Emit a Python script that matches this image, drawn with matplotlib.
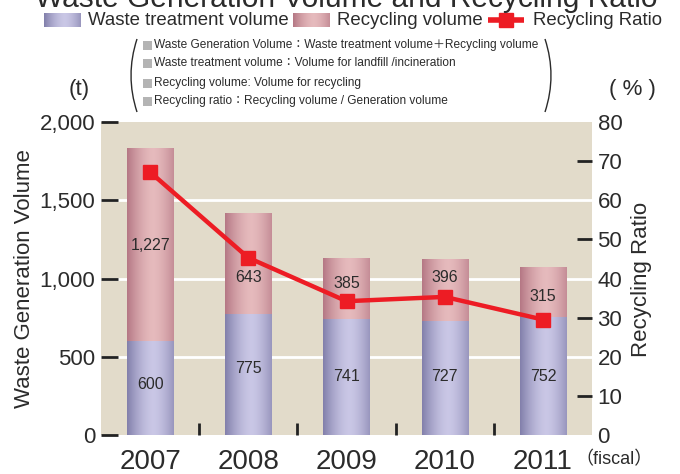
import matplotlib
matplotlib.use('Agg')
import matplotlib.pyplot as plt
import numpy as np
from matplotlib.path import Path
from matplotlib.patches import PathPatch, Rectangle

plt.rcParams['font.family'] = ['Liberation Sans', 'Noto Sans CJK JP', 'DejaVu Sans']
TXT = '#2b2b2b'

# data (t and %)
years = ['2007', '2008', '2009', '2010', '2011']
treatment = [600, 775, 741, 727, 752]
recycling = [1227, 643, 385, 396, 315]
ratio = [67.2, 45.3, 34.2, 35.3, 29.5]

# where the value labels sit (t)
treat_label_y = [323, 422, 371, 371, 371]
recyc_label_y = [1208, 1006, 965, 1006, 888]

notes = ['Waste Generation Volume：Waste treatment volume＋Recycling volume',
         'Waste treatment volume：Volume for landfill /incineration',
         'Recycling volume: Volume for recycling',
         'Recycling ratio：Recycling volume / Generation volume']

BLUE_EDGE, BLUE_MID = (0.51, 0.50, 0.67), (0.79, 0.78, 0.90)
PINK_EDGE, PINK_MID = (0.71, 0.47, 0.52), (0.90, 0.73, 0.74)
RED = '#ED1C24'


def gradient(edge, mid, n=80):
    t = np.linspace(0, 1, n)
    w = 1 - np.clip(np.abs(t - 0.56) / 0.56, 0, 1) ** 1.6
    e, m = np.array(edge), np.array(mid)
    return (e[None, :] * (1 - w[:, None]) + m[None, :] * w[:, None])[None, :, :]


W, H = 680, 474
fig = plt.figure(figsize=(6.8, 4.74), dpi=100)

ax = fig.add_axes([101 / W, (H - 435) / H, 491 / W, 313 / H])
ax.set_facecolor('#E2DBCA')
for s in ax.spines.values():
    s.set_visible(False)

x = np.arange(len(years))
bw = 0.47
for v in [500, 1000, 1500]:
    ax.axhline(v, color='white', lw=2, zorder=1)

for i in x:
    ax.imshow(gradient(BLUE_EDGE, BLUE_MID), extent=(i - bw / 2, i + bw / 2, 0, treatment[i]),
              aspect='auto', zorder=2, interpolation='bilinear')
    ax.imshow(gradient(PINK_EDGE, PINK_MID),
              extent=(i - bw / 2, i + bw / 2, treatment[i], treatment[i] + recycling[i]),
              aspect='auto', zorder=2, interpolation='bilinear')
    ax.text(i, treat_label_y[i], f'{treatment[i]:,}', ha='center', va='center',
            fontsize=11.5, color=TXT, zorder=3)
    ax.text(i, recyc_label_y[i], f'{recycling[i]:,}', ha='center', va='center',
            fontsize=11.5, color=TXT, zorder=3)

ax.set_xlim(-0.5, 4.5)
ax.set_ylim(0, 2000)
ax.set_yticks([0, 500, 1000, 1500, 2000])
ax.set_yticklabels(['0', '500', '1,000', '1,500', '2,000'])
ax.tick_params(axis='y', direction='in', length=12, width=2, pad=4, labelsize=16,
               labelcolor=TXT, color='#222222')
ax.yaxis.get_major_ticks()[0].tick1line.set_visible(False)
ax.set_xticks(x)
ax.set_xticklabels(years)
ax.tick_params(axis='x', which='major', length=0, pad=10, labelsize=20, labelcolor=TXT)
ax.set_xticks(x[:-1] + 0.5, minor=True)
ax.tick_params(axis='x', which='minor', direction='in', length=8.5, width=2, color='#222222')

ax2 = ax.twinx()
for s in ax2.spines.values():
    s.set_visible(False)
ax2.plot(x, ratio, color=RED, lw=3.2, marker='s', ms=10, zorder=5)
ax2.set_ylim(0, 80)
ax2.set_yticks(range(0, 81, 10))
ax2.tick_params(axis='y', direction='in', length=11, width=2, pad=4, labelsize=16,
                labelcolor=TXT, color='#222222')
for t, v in zip(ax2.yaxis.get_major_ticks(), range(0, 81, 10)):
    t.tick2line.set_visible(v % 20 == 10)

# overlay in pixel coordinates for the header texts
ov = fig.add_axes([0, 0, 1, 1], zorder=10)
ov.set_xlim(0, W)
ov.set_ylim(H, 0)
ov.axis('off')

ov.text(346, 7, 'Waste Generation Volume and Recycling Ratio', ha='center', va='baseline',
        fontsize=21.5, color=TXT)

# legend
ov.imshow(gradient(BLUE_EDGE, BLUE_MID), extent=(44, 81, 27, 13), aspect='auto', interpolation='bilinear')
ov.text(88, 20, 'Waste treatment volume', va='center', fontsize=13.4, color=TXT)
ov.imshow(gradient(PINK_EDGE, PINK_MID), extent=(293, 330, 27, 13), aspect='auto', interpolation='bilinear')
ov.text(337, 20, 'Recycling volume', va='center', fontsize=13.4, color=TXT)
ov.plot([488, 524], [20, 20], color=RED, lw=4, solid_capstyle='butt')
ov.plot([506], [20], marker='s', ms=10, color=RED)
ov.text(533, 20, 'Recycling Ratio', va='center', fontsize=13.4, color=TXT)
ov.set_xlim(0, W)
ov.set_ylim(H, 0)

# notes in brackets
for k, line in enumerate(notes):
    yy = [45, 63, 83, 101][k]
    ov.add_patch(Rectangle((143, yy - 4.5), 9, 9, color='#B4B4B4', lw=0))
    ov.text(154, yy, line, va='center', fontsize=8.6, color=TXT)
for x0, xc in [(137, 125), (545, 557)]:
    p = Path([(x0, 39), (xc, 75.5), (x0, 112)], [Path.MOVETO, Path.CURVE3, Path.CURVE3])
    ov.add_patch(PathPatch(p, fill=False, lw=1.0, color=TXT))

ov.text(79, 89, '(t)', ha='center', va='center', fontsize=16, color=TXT)
ov.text(632, 89, '( % )', ha='center', va='center', fontsize=16, color=TXT)
ov.text(25, 279, 'Waste Generation Volume', ha='center', va='center', rotation=90,
        fontsize=16, color=TXT)
ov.text(641, 279, 'Recycling Ratio', ha='center', va='center', rotation=90,
        fontsize=16, color=TXT)
ov.text(575, 460, '（fiscal）', va='center', fontsize=13, color=TXT)

fig.savefig('out.png', dpi=100)
